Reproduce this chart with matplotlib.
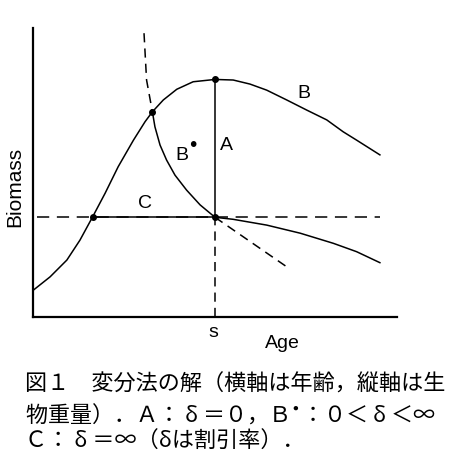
import matplotlib
matplotlib.use("Agg")
from matplotlib import pyplot as plt

#####* growth curve (B)
growth_age = [0.1, 4.7, 9.3, 12.9, 16.4, 19.8, 23.4, 27.6, 30.8, 32.8, 35.8, 39.5,
              44.0, 50.0, 55.0, 59.6, 64.2, 69.7, 75.2, 80.7, 85.2, 88.9, 95.3]
growth_bio = [9.3, 13.9, 19.7, 26.6, 34.7, 42.8, 52.0, 61.2, 67.6, 71.0, 75.1, 78.8,
              81.4, 82.2, 82.0, 80.6, 78.5, 75.1, 71.6, 68.2, 64.1, 61.2, 56.1]

#####* B* solution curve and its dashed extensions
bstar_age = [32.8, 33.5, 34.9, 36.7, 39.0, 42.2, 45.9, 50.0]
bstar_bio = [71.0, 65.8, 59.5, 54.3, 49.1, 43.9, 38.8, 34.5]
bstar_up_age = [30.5, 31.2, 32.8]
bstar_up_bio = [98.2, 82.0, 71.0]
bstar_down_age = [50.0, 69.9]
bstar_down_bio = [34.5, 17.2]

#####* lower curve after s
lower_age = [50.0, 55.0, 64.2, 73.4, 82.5, 88.9, 95.3]
lower_bio = [34.5, 33.8, 31.8, 29.0, 25.5, 22.6, 18.8]

s_age = 50.0
c_age = 16.4
c_bio = 34.5
peak_bio = 82.2
hline_range = [1.0, 95.3]

dot_age = [c_age, 32.8, s_age, s_age]
dot_bio = [c_bio, 71.0, peak_bio, c_bio]

fig = plt.figure(figsize=(4.52, 4.57), dpi=100)
ax = fig.add_axes([33 / 452, 1 - 317 / 457, 364 / 452, 289 / 457])

lw = 1.1
k = "black"
ax.plot(growth_age, growth_bio, color=k, lw=lw)
ax.plot(bstar_age, bstar_bio, color=k, lw=lw)
ax.plot(bstar_up_age, bstar_up_bio, color=k, lw=lw, dashes=(6, 4))
ax.plot(bstar_down_age, bstar_down_bio, color=k, lw=lw, dashes=(6, 4))
ax.plot(lower_age, lower_bio, color=k, lw=lw)
ax.plot(hline_range, [c_bio, c_bio], color=k, lw=lw, dashes=(8, 5))
ax.plot([c_age, s_age], [c_bio, c_bio], color=k, lw=lw)
ax.plot([s_age, s_age], [c_bio, peak_bio], color=k, lw=lw)
ax.plot([s_age, s_age], [0, c_bio], color=k, lw=lw, dashes=(6, 4))
ax.plot(dot_age, dot_bio, "o", color=k, ms=4, ls="none")

ax.set_xlim(0, 100)
ax.set_ylim(0, 100)
ax.set_xticks([])
ax.set_yticks([])
for side in ["top", "right"]:
    ax.spines[side].set_visible(False)
for side in ["left", "bottom"]:
    ax.spines[side].set_linewidth(1.6)

lab = dict(fontsize=14, family="Liberation Sans", ha="center", va="center")
ax.text(74.3, 77.4, "B", **lab)
ax.text(53.2, 59.5, "A", **lab)
ax.text(40.8, 56.0, "B", **lab)
ax.text(43.8, 59.2, "•", fontsize=14, family="DejaVu Sans", ha="center", va="center")
ax.text(30.9, 39.3, "C", **lab)
ax.text(49.5, -5.5, "s", clip_on=False, **lab)
ax.text(68.4, -9.0, "Age", clip_on=False, **lab)
fig.text(15 / 452, 1 - 187 / 457, "Biomass", rotation=90, fontsize=15,
         family="Liberation Sans", ha="center", va="center")

#####* caption
cap = dict(fontsize=15.9, family=["Noto Sans CJK JP", "DejaVu Sans"], ha="left", va="center")
fig.text(25 / 452, 1 - 385 / 457, "図１　変分法の解（横軸は年齢，縦軸は生", **cap)
fig.text(25 / 452, 1 - 414 / 457, "物重量）．Ａ： δ ＝０，Ｂ$^{\\bullet}$：０＜ δ ＜∞", **cap)
fig.text(25 / 452, 1 - 442 / 457, "Ｃ： δ ＝∞（δは割引率）．", **cap)

fig.savefig("out.png", dpi=100)
